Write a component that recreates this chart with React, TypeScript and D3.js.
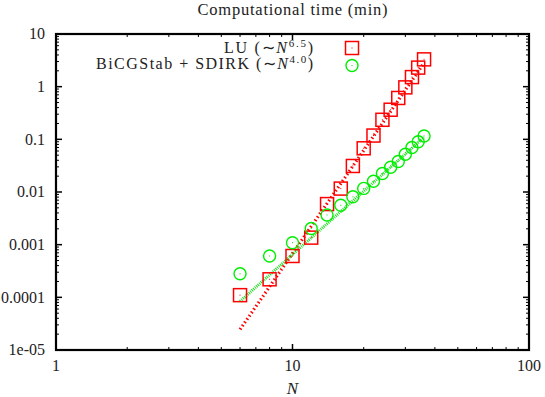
import React from "react";
import * as d3 from "d3";

const W = 545;
const H = 397;

// Data
const sizesN = [6, 8, 10, 12, 14, 16, 18, 20, 22, 24, 26, 28, 30, 32, 34, 36];
const timeLU = [1.1e-4, 2.2e-4, 6.1e-4, 1.36e-3, 5.9e-3, 0.0116, 0.0312, 0.0676, 0.118, 0.235, 0.365, 0.61, 0.97, 1.52, 2.3, 3.3];
const timeBiCG = [2.8e-4, 6.1e-4, 1.09e-3, 2.03e-3, 3.66e-3, 5.6e-3, 8.1e-3, 0.0117, 0.016, 0.0224, 0.0296, 0.038, 0.052, 0.07, 0.09, 0.116];
const fitLU = { coef: 2.15e-10, exponent: 6.5 };
const fitBiCG = { coef: 6.5e-8, exponent: 4.0 };
const fitRange = [6, 36];
const xTicks = [1, 10, 100];
const xTickLabels = ["1", "10", "100"];
const yTicks = [1e-5, 1e-4, 1e-3, 1e-2, 1e-1, 1, 10];
const yTickLabels = ["1e-05", "0.0001", "0.001", "0.01", "0.1", "1", "10"];

const FONT = "'Liberation Serif', 'Times New Roman', serif";

const L = 56, R = 529, T = 34, B = 350;

export default function App() {
  const x = d3.scaleLog().domain([1, 100]).range([L, R]);
  const y = d3.scaleLog().domain([1e-5, 10]).range([B, T]);

  const minorX: number[] = [];
  for (let d = 1; d < 100; d *= 10) for (let m = 2; m <= 9; m++) minorX.push(d * m);
  const minorY: number[] = [];
  for (let d = 1e-5; d < 10; d *= 10) for (let m = 2; m <= 9; m++) minorY.push(d * m);

  const fitPath = (f: { coef: number; exponent: number }) =>
    d3
      .line<number>()
      .x((n) => x(n))
      .y((n) => y(f.coef * Math.pow(n, f.exponent)))(fitRange) || "";

  const red = "#ff0000";
  const green = "#00ee00";

  return (
    <svg width={W} height={H} style={{ position: "absolute", left: 0, top: 0, background: "#fff" }}>
      <rect x={0} y={0} width={W} height={H} fill="#fff" />
      {/* title */}
      <text x={(L + R) / 2} y={15} textAnchor="middle" fontFamily={FONT} fontSize={16.5} textLength={190} lengthAdjust="spacing" fill="#222">
        Computational time (min)
      </text>

      {/* ticks */}
      <g stroke="#000">
        {minorX.map((v, i) => (
          <g key={"mx" + i}>
            <line x1={x(v)} x2={x(v)} y1={B} y2={B - 3} strokeWidth={1} />
            <line x1={x(v)} x2={x(v)} y1={T} y2={T + 3} strokeWidth={1} />
          </g>
        ))}
        {xTicks.map((v, i) => (
          <g key={"Mx" + i}>
            <line x1={x(v)} x2={x(v)} y1={B} y2={B - 6} strokeWidth={1.5} />
            <line x1={x(v)} x2={x(v)} y1={T} y2={T + 6} strokeWidth={1.5} />
          </g>
        ))}
        {minorY.map((v, i) => (
          <g key={"my" + i}>
            <line x1={L} x2={L + 3} y1={y(v)} y2={y(v)} strokeWidth={1} />
            <line x1={R} x2={R - 3} y1={y(v)} y2={y(v)} strokeWidth={1} />
          </g>
        ))}
        {yTicks.map((v, i) => (
          <g key={"My" + i}>
            <line x1={L} x2={L + 6} y1={y(v)} y2={y(v)} strokeWidth={1.5} />
            <line x1={R} x2={R - 6} y1={y(v)} y2={y(v)} strokeWidth={1.5} />
          </g>
        ))}
      </g>

      {/* tick labels */}
      {yTicks.map((v, i) => (
        <text key={"yl" + i} x={45} y={y(v) + 5.3} textAnchor="end" fontFamily={FONT} fontSize={16} fill="#222">
          {yTickLabels[i]}
        </text>
      ))}
      {xTicks.map((v, i) => (
        <text key={"xl" + i} x={x(v)} y={370.5} textAnchor="middle" fontFamily={FONT} fontSize={16} fill="#222">
          {xTickLabels[i]}
        </text>
      ))}
      <text x={(L + R) / 2} y={394} textAnchor="middle" fontFamily={FONT} fontSize={17} fontStyle="italic" fill="#222">
        N
      </text>

      {/* fit lines */}
      <path d={fitPath(fitLU)} fill="none" stroke={red} strokeWidth={3.2} strokeDasharray="1.5 2.5" />
      <path d={fitPath(fitBiCG)} fill="none" stroke="#22dd22" strokeWidth={3} strokeDasharray="1 1" />

      {/* markers LU */}
      {sizesN.map((n, i) => (
        <g key={"sq" + i}>
          <rect x={x(n) - 6.5} y={y(timeLU[i]) - 6.5} width={13} height={13} fill="none" stroke={red} strokeWidth={1.5} />
          <rect x={x(n) - 0.5} y={y(timeLU[i]) - 0.5} width={1} height={1} fill={red} />
        </g>
      ))}
      {/* markers BiCG */}
      {sizesN.map((n, i) => (
        <g key={"ci" + i}>
          <circle cx={x(n)} cy={y(timeBiCG[i])} r={6} fill="none" stroke={green} strokeWidth={1.4} />
          <rect x={x(n) - 0.5} y={y(timeBiCG[i]) - 0.5} width={1} height={1} fill={green} />
        </g>
      ))}

      {/* legend */}
      <text x={313} y={52.5} textAnchor="end" fontFamily={FONT} fontSize={16} fill="#222" textLength={89} lengthAdjust="spacing">
        LU (∼<tspan fontStyle="italic">N</tspan>
        <tspan dy={-6} fontSize={11}>6.5</tspan>
        <tspan dy={6}>)</tspan>
      </text>
      <rect x={352 - 6.5} y={48 - 6.5} width={13} height={13} fill="none" stroke={red} strokeWidth={1.5} />
      <rect x={351.5} y={47.5} width={1} height={1} fill={red} />
      <text x={313} y={69} textAnchor="end" fontFamily={FONT} fontSize={16} fill="#222" textLength={217} lengthAdjust="spacing">
        BiCGStab + SDIRK (∼<tspan fontStyle="italic">N</tspan>
        <tspan dy={-6} fontSize={11}>4.0</tspan>
        <tspan dy={6}>)</tspan>
      </text>
      <circle cx={352} cy={65.5} r={6} fill="none" stroke={green} strokeWidth={1.4} />
      <rect x={351.5} y={65} width={1} height={1} fill={green} />

      {/* frame */}
      <rect x={L} y={T} width={R - L} height={B - T} fill="none" stroke="#000" strokeWidth={2.2} />
    </svg>
  );
}
